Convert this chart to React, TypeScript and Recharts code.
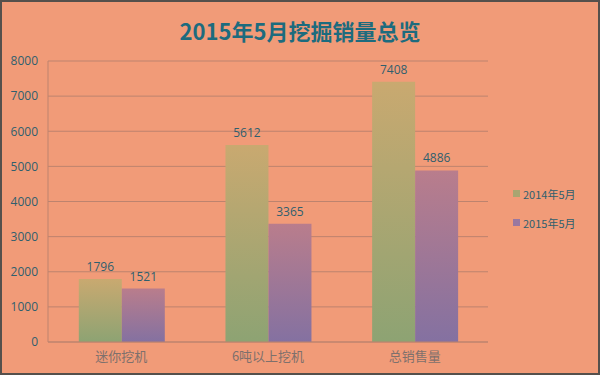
import { Bar, BarChart, CartesianGrid, LabelList, XAxis, YAxis } from 'recharts';

const CATEGORIES = ['迷你挖机', '6吨以上挖机', '总销售量'];
const SALES_2014 = [1796, 5612, 7408];
const SALES_2015 = [1521, 3365, 4886];
const Y_TICKS = [0, 1000, 2000, 3000, 4000, 5000, 6000, 7000, 8000];

const rows = CATEGORIES.map((name, i) => ({
  name,
  y2014: SALES_2014[i],
  y2015: SALES_2015[i],
}));

const BG = '#f19b78';
const GRID = '#bd836e';
const FONT = '"Open Sans", "Noto Sans CJK SC", sans-serif';

const LEGEND = [
  { label: '2014年5月', color: '#a9a571' },
  { label: '2015年5月', color: '#9a78a0' },
];

// legend kept outside the chart so it doesn't eat plot width
function SideLegend() {
  return (
    <div
      style={{
        position: 'absolute',
        left: 513,
        top: 179,
        fontFamily: '"Noto Sans CJK SC", sans-serif',
        fontSize: 11,
        color: '#2f5f6e',
      }}
    >
      {LEGEND.map((l) => (
        <div key={l.label} style={{ display: 'flex', alignItems: 'center', height: 29 }}>
          <span style={{ width: 7, height: 7, background: l.color, marginRight: 3 }} />
          {l.label}
        </div>
      ))}
    </div>
  );
}

export default function App() {
  return (
    <div style={{ position: 'fixed', left: 0, top: 0, width: 600, height: 375, background: BG }}>
      <div
        style={{
          position: 'absolute',
          top: 15,
          left: 0,
          width: 600,
          textAlign: 'center',
          fontFamily: '"Noto Sans CJK SC", sans-serif',
          fontWeight: 700,
          fontSize: 22,
          color: '#1d6b7e',
          lineHeight: '30px',
        }}
      >
        2015年5月挖掘销量总览
      </div>
      <BarChart
        width={600}
        height={375}
        data={rows}
        margin={{ top: 61, right: 112, bottom: 0, left: 0 }}
        barCategoryGap="21%"
        barGap={0}
      >
        <defs>
          <linearGradient id="g14" x1="0" y1="0" x2="0" y2="1">
            <stop offset="0%" stopColor="#c9a970" />
            <stop offset="100%" stopColor="#8da373" />
          </linearGradient>
          <linearGradient id="g15" x1="0" y1="0" x2="0" y2="1">
            <stop offset="0%" stopColor="#b97d8c" />
            <stop offset="100%" stopColor="#8471a1" />
          </linearGradient>
        </defs>
        <CartesianGrid vertical={false} stroke={GRID} />
        <XAxis
          dataKey="name"
          height={33}
          stroke={GRID}
          tickLine={false}
          tickSize={0}
          tickMargin={10}
          tick={{ fill: '#7e706c', fontSize: 13, fontFamily: '"Noto Sans CJK SC", sans-serif' }}
        />
        <YAxis
          width={48}
          domain={[0, 8000]}
          ticks={Y_TICKS}
          interval={0}
          stroke={GRID}
          tickLine={false}
          tickSize={0}
          tickMargin={10}
          tick={{ fill: '#2f5f6e', fontSize: 12, fontFamily: FONT }}
        />
        <Bar dataKey="y2014" fill="url(#g14)" isAnimationActive={false}>
          <LabelList dataKey="y2014" position="top" offset={8} fill="#2f5f6e" fontSize={12} fontFamily={FONT} />
        </Bar>
        <Bar dataKey="y2015" fill="url(#g15)" isAnimationActive={false}>
          <LabelList dataKey="y2015" position="top" offset={8} fill="#2f5f6e" fontSize={12} fontFamily={FONT} />
        </Bar>
      </BarChart>
      <SideLegend />
      <div
        style={{
          position: 'absolute',
          inset: 0,
          border: '2px solid #55504c',
          pointerEvents: 'none',
        }}
      />
    </div>
  );
}
